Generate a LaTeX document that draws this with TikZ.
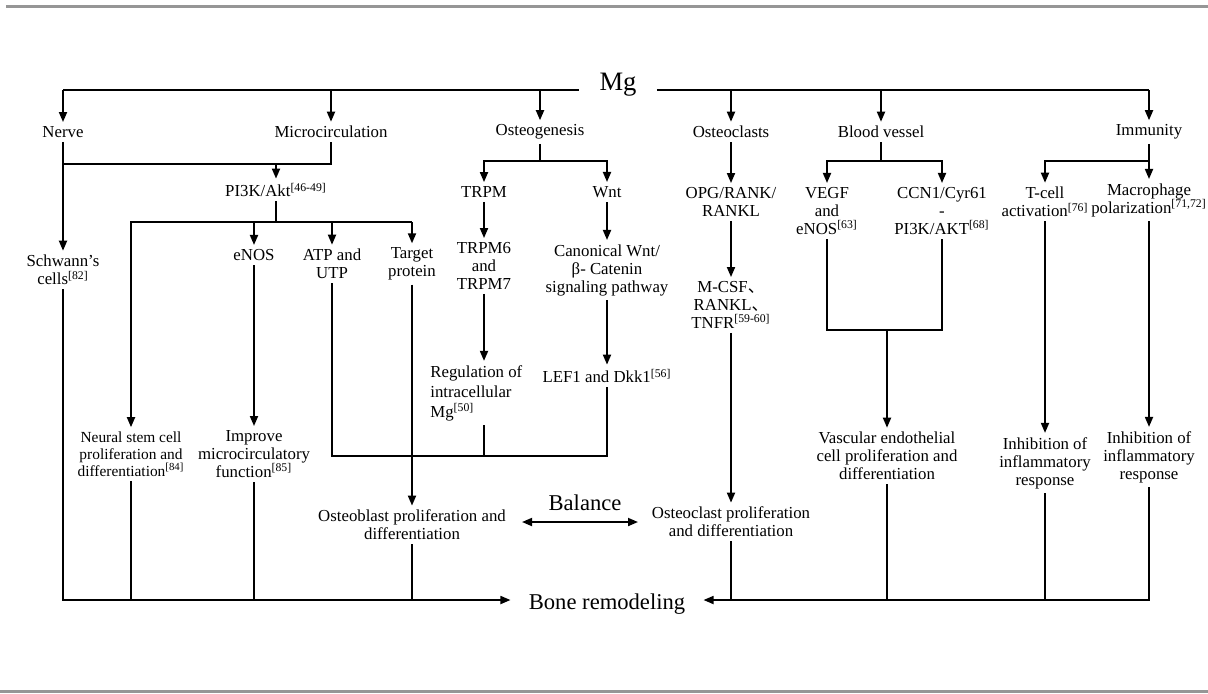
\documentclass[tikz,border=0pt]{standalone}
\usepackage{fontspec}
\setmainfont{Liberation Serif}
\newfontfamily\cjkfont{Noto Sans CJK SC}
\usetikzlibrary{arrows.meta}
\definecolor{rulegray}{RGB}{150,150,150}
\newcommand{\rf}[1]{\textsuperscript{[#1]}}
\begin{document}
\begin{tikzpicture}[x=0.5pt,y=-0.5pt,
  txt/.style={inner sep=2pt, align=center, font=\fontsize{8.4}{9}\selectfont},
  ln/.style={line width=0.9pt},
  arr/.style={ln,-{Triangle[width=4pt,length=5pt]}},
  dblarr/.style={ln,{Triangle[width=4pt,length=5pt]}-{Triangle[width=4pt,length=5pt]}},
  rule/.style={line width=1.5pt, draw=rulegray}]
\useasboundingbox (0,0) rectangle (1208,693);
\draw[rule] (6,6.5) -- (1208,6.5);
\draw[rule] (0,691) -- (1208,691);

% nodes
\node[font=\fontsize{13.3}{14}\selectfont, inner xsep=10pt, inner ysep=0pt] (mg) at (618,85) {Mg};
\node[txt] (nerve) at (63,132) {Nerve};
\node[txt] (micro) at (331,132) {Microcirculation};
\node[txt] (osteog) at (540,132) {Osteogenesis};
\node[txt] (osteoc) at (731,132) {Osteoclasts};
\node[txt] (blood) at (881,132) {Blood vessel};
\node[txt] (immun) at (1149,132) {Immunity};

\node[txt] (pi3k) at (276,190) {PI3K/Akt\rf{46-49}};
\node[txt] (schwann) at (63,270) {Schwann’s\\cells\rf{82}};
\node[txt] (enos) at (254,255) {eNOS};
\node[txt] (atp) at (332,264) {ATP and\\UTP};
\node[txt] (target) at (412,264) {Target\\protein};
\node[txt] (trpm) at (484,192) {TRPM};
\node[txt] (wnt) at (607,192) {Wnt};
\node[txt] (trpm67) at (484,266) {TRPM6\\and\\TRPM7};
\node[txt] (canon) at (607,270) {Canonical Wnt/\\β- Catenin\\signaling pathway};
\node[txt, align=left, anchor=west, font=\fontsize{8.4}{10}\selectfont] (reg) at (426,393) {Regulation of\\intracellular\\Mg\rf{50}};
\node[txt] (lef) at (607,376) {LEF1 and Dkk1\rf{56}};
\node[txt] (opg) at (731,202) {OPG/RANK/\\RANKL};
\node[txt] (mcsf) at (731,305) {M-CSF{\cjkfont 、}\\RANKL{\cjkfont 、}\\TNFR\rf{59-60}};
\node[txt, font=\fontsize{7.7}{8.5}\selectfont] (neural) at (131,454) {Neural stem cell\\proliferation and\\differentiation\rf{84}};
\node[txt] (improve) at (254,454) {Improve\\microcirculatory\\function\rf{85}};
\node[txt] (osteob) at (412,525) {Osteoblast proliferation and\\differentiation};
\node[txt] (osteocp) at (731,522) {Osteoclast proliferation\\and differentiation};
\node[txt, font=\fontsize{11.3}{12}\selectfont] (balance) at (585,503) {Balance};
\node[txt] (vegf) at (827,211) {VEGF\\and\\eNOS\rf{63}};
\node[txt] (ccn) at (942,211) {CCN1/Cyr61\\-\\PI3K/AKT\rf{68}};
\node[txt] (vasc) at (887,456) {Vascular endothelial\\cell proliferation and\\differentiation};
\node[txt] (tcell) at (1045,202) {T-cell\\activation\rf{76}};
\node[txt] (macro) at (1149,200) {Macrophage\\polarization\rf{71,72}};
\node[txt] (inh1) at (1045,463) {Inhibition of\\inflammatory\\response};
\node[txt] (inh2) at (1149,457) {Inhibition of\\inflammatory\\response};
\node[txt, font=\fontsize{11.3}{12}\selectfont, inner xsep=9pt] (bone) at (607,604) {Bone remodeling};

% junction levels
\coordinate (L) at (63,90);
\coordinate (R) at (1149,90);
\coordinate (J) at (0,164);
\coordinate (K) at (0,222);
\coordinate (C) at (0,161);
\coordinate (B) at (0,456);
\coordinate (F) at (0,330);
\coordinate (D) at (0,600);
\coordinate (E1) at (522,522);
\coordinate (E2) at (638,522);

% Mg bar
\draw[ln] (L) -- (mg.west |- L);
\draw[ln] (mg.east |- R) -- (R);
\foreach \n in {nerve,micro,osteog,osteoc,blood,immun} \draw[arr] (\n |- L) -- (\n.north);

% nerve / microcirculation
\draw[arr] (nerve.south) -- (schwann.north);
\draw[ln] (micro.south) -- (micro |- J) -- (nerve |- J);
\draw[arr] (pi3k |- J) -- (pi3k.north);
\draw[ln] (pi3k.south) -- (pi3k |- K);
\draw[arr] (target |- K) -- (neural |- K) -- (neural.north);
\foreach \n in {enos,atp,target} \draw[arr] (\n |- K) -- (\n.north);
\draw[arr] (enos.south) -- (improve.north);
\draw[ln] (atp.south) -- (atp |- B) -- (lef |- B) -- (lef.south);
\draw[ln] (trpm |- reg.south) -- (trpm |- B);
\draw[arr] (target.south) -- (osteob.north);

% osteogenesis
\draw[ln] (osteog.south) -- (osteog |- C);
\draw[arr] (osteog |- C) -- (trpm |- C) -- (trpm.north);
\draw[arr] (osteog |- C) -- (wnt |- C) -- (wnt.north);
\draw[arr] (trpm.south) -- (trpm67.north);
\draw[arr] (trpm67.south) -- (trpm |- reg.north);
\draw[arr] (wnt.south) -- (canon.north);
\draw[arr] (canon.south) -- (lef.north);

% osteoclasts
\draw[arr] (osteoc.south) -- (opg.north);
\draw[arr] (opg.south) -- (mcsf.north);
\draw[arr] (mcsf.south) -- (osteocp.north);
\draw[dblarr] (E1) -- (E2);

% blood vessel
\draw[ln] (blood.south) -- (blood |- C);
\draw[arr] (blood |- C) -- (vegf |- C) -- (vegf.north);
\draw[arr] (blood |- C) -- (ccn |- C) -- (ccn.north);
\draw[ln] (vegf.south) -- (vegf |- F) -- (ccn |- F) -- (ccn.south);
\draw[arr] (vasc |- F) -- (vasc.north);

% immunity
\draw[arr] (immun.south) -- (immun |- C) -- (tcell |- C) -- (tcell.north);
\draw[arr] (immun |- C) -- (macro.north);
\draw[arr] (tcell.south) -- (inh1.north);
\draw[arr] (macro.south) -- (inh2.north);

% to bone remodeling
\draw[arr] (schwann.south) -- (schwann |- D) -- (bone.west |- D);
\foreach \n in {neural,improve,osteob} \draw[ln] (\n.south) -- (\n |- D);
\draw[arr] (inh2.south) -- (inh2 |- D) -- (bone.east |- D);
\foreach \n in {osteocp,vasc,inh1} \draw[ln] (\n.south) -- (\n |- D);
\end{tikzpicture}
\end{document}
